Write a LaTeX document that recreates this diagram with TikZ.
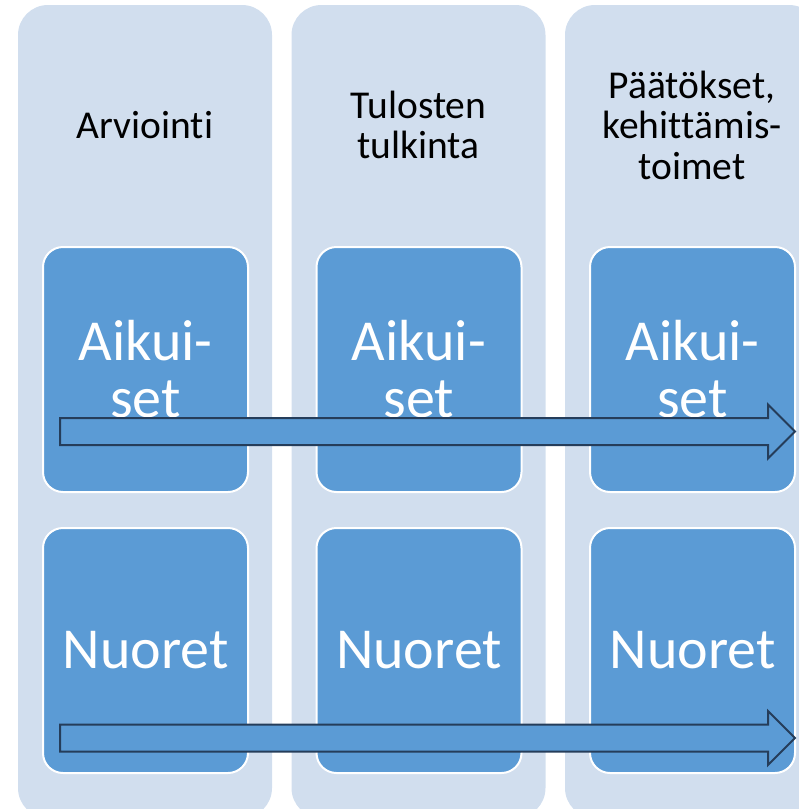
\documentclass[tikz,border=0pt]{standalone}
\usepackage{fontspec}
\setmainfont{Carlito}[Ligatures=NoCommon]
\usepackage{tikz}

\definecolor{colbg}{RGB}{209,222,238}
\definecolor{boxblue}{RGB}{91,155,213}
\definecolor{arrowline}{RGB}{37,61,90}

\begin{document}
\begin{tikzpicture}[x=1pt,y=-1pt,
    column/.style={fill=colbg,rounded corners=30pt},
    group/.style={draw=white,line width=2pt,fill=boxblue,rounded corners=20pt,
        minimum width=205pt,minimum height=245pt,inner sep=0pt,text=white,
        align=center,font=\fontsize{58}{57}\selectfont},
    phase/.style={align=center,font=\fontsize{39.5}{40.5}\selectfont},
    flow/.style={draw=arrowline,line width=2pt,fill=boxblue,line join=miter}]
    \useasboundingbox (0,0) rectangle (799,809);
    \clip (0,0) rectangle (799,809);
    % three phases, each with two groups
    \foreach \i/\lab in {0/{Arvioint\kern0pt i},1/{Tulosten\\tulkinta},2/{Päätökset,\\kehit\kern0pt tämis-\\toimet}}{
        \fill[column] (18+273.5*\i,5) rectangle ++(254,813);
        \node[phase] (ph\i) at (145+273.5*\i,125) {\lab};
        \node[group] (ad\i) at (145.5+273.5*\i,369.5) {Aikui-\\set};
        \node[group] (nu\i) at (145.5+273.5*\i,650.5) {Nuoret};
    }
    % block arrows over the groups
    \foreach \y in {431.5,738}{
        \draw[flow] (60,\y-13.5)--(768,\y-13.5)--(768,\y-27)--(795,\y)
            --(768,\y+27)--(768,\y+13.5)--(60,\y+13.5)--cycle;
    }
\end{tikzpicture}
\end{document}
